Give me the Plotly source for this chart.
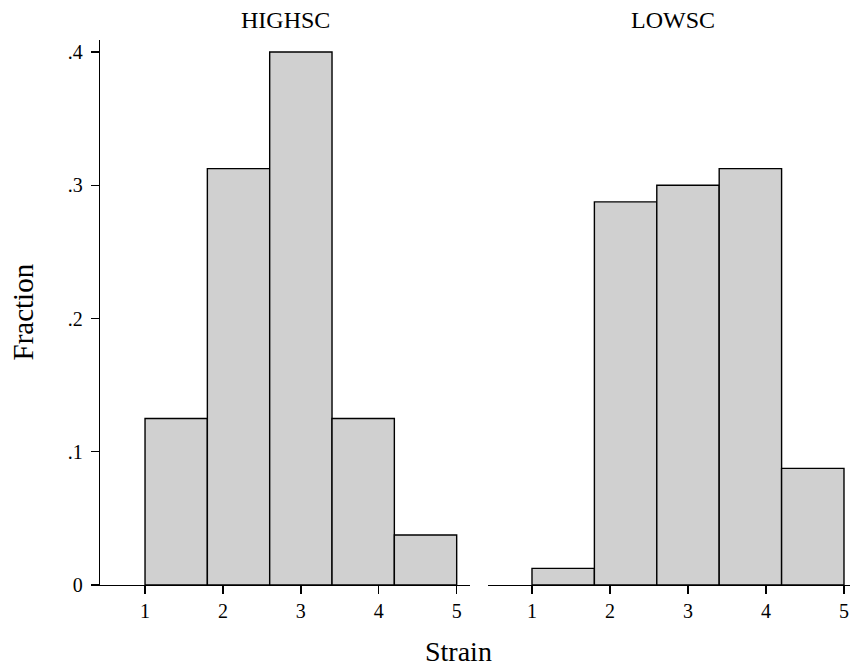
import plotly.graph_objects as go

# Data
bin_left_edges = [1.0, 1.8, 2.6, 3.4, 4.2]
bin_width = 0.8
highsc_fraction = [0.125, 0.3125, 0.4, 0.125, 0.0375]
lowsc_fraction = [0.0125, 0.2875, 0.3, 0.3125, 0.0875]
panel_titles = ["HIGHSC", "LOWSC"]
y_tick_vals = [0, 0.1, 0.2, 0.3, 0.4]
y_tick_text = ["0", ".1", ".2", ".3", ".4"]
x_tick_vals = [1, 2, 3, 4, 5]

FONT = "Liberation Serif"
W, H = 850, 668
ML, MR, MT, MB = 100, 0, 40, 83
PW = W - ML - MR

fig = go.Figure()
bar_style = dict(marker=dict(color="#d0d0d0", line=dict(color="black", width=1.4)),
                 width=bin_width, offset=0, showlegend=False, hoverinfo="skip")
fig.add_trace(go.Bar(x=bin_left_edges, y=highsc_fraction, xaxis="x", yaxis="y", **bar_style))
fig.add_trace(go.Bar(x=bin_left_edges, y=lowsc_fraction, xaxis="x2", yaxis="y2", **bar_style))

xcommon = dict(tickvals=x_tick_vals, ticks="outside", ticklen=8, tickwidth=1.3,
               tickcolor="black", showline=True, linecolor="black", linewidth=1.3,
               showgrid=False, zeroline=False, ticklabeloverflow="allow",
               tickfont=dict(family=FONT, size=20, color="black"))
ycommon = dict(range=[0, 0.409], showgrid=False, zeroline=False)

fig.update_layout(
    width=W, height=H,
    margin=dict(l=ML, r=MR, t=MT, b=MB),
    plot_bgcolor="white", paper_bgcolor="white",
    bargap=0,
    xaxis=dict(domain=[0, 370 / PW], range=[0.422, 5.171], anchor="y", **xcommon),
    xaxis2=dict(domain=[388 / PW, 1], range=[0.436, 5.077], anchor="y2", **xcommon),
    yaxis=dict(domain=[0, 1], anchor="x", tickvals=y_tick_vals, ticktext=y_tick_text,
               ticks="outside", ticklen=8, tickwidth=1.3, tickcolor="black",
               showline=True, linecolor="black", linewidth=1.3, ticklabelstandoff=4,
               tickfont=dict(family=FONT, size=20, color="black"), **ycommon),
    yaxis2=dict(domain=[0, 1], anchor="x2", showticklabels=False, showline=False,
                ticks="", **ycommon),
    annotations=[
        dict(text=panel_titles[0], xref="paper", yref="paper", x=185 / PW, y=1,
             yshift=20, xanchor="center", yanchor="middle", showarrow=False,
             font=dict(family=FONT, size=24, color="black")),
        dict(text=panel_titles[1], xref="paper", yref="paper", x=(388 + 185) / PW, y=1,
             yshift=20, xanchor="center", yanchor="middle", showarrow=False,
             font=dict(family=FONT, size=24, color="black")),
        dict(text="Fraction", xref="paper", yref="paper", x=0, xshift=-78, y=0.5,
             textangle=-90, xanchor="center", yanchor="middle", showarrow=False,
             font=dict(family=FONT, size=29, color="black")),
        dict(text="Strain", xref="paper", yref="paper", x=(458 - ML) / PW, y=0,
             yshift=-66, xanchor="center", yanchor="middle", showarrow=False,
             font=dict(family=FONT, size=28, color="black")),
    ],
)

fig.write_html(
    "out.html",
    config={"displayModeBar": False, "staticPlot": True},
    post_script="document.body.style.margin='0';document.body.style.padding='0';"
                "document.documentElement.style.overflow='hidden';"
                "document.body.style.overflow='hidden';",
)
